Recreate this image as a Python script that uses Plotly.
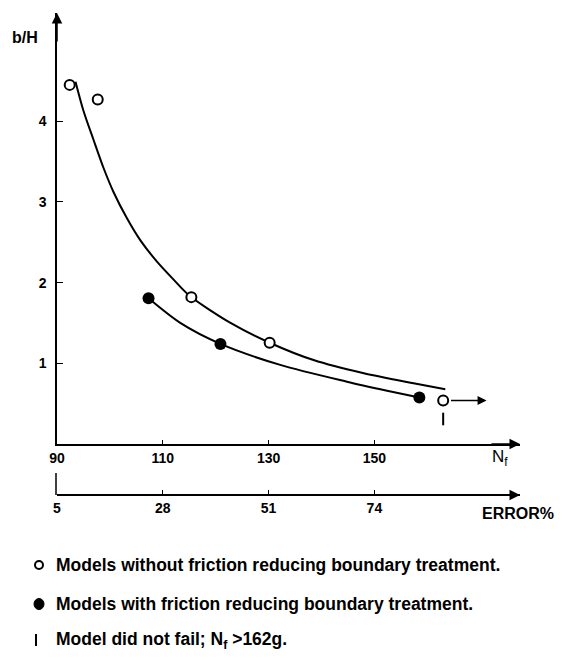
import plotly.graph_objects as go

# ---- data ----
open_x = [92.4, 97.7, 115.4, 130.2, 163.0]
open_y = [4.45, 4.27, 1.82, 1.255, 0.54]
filled_x = [107.3, 120.9, 158.5]
filled_y = [1.805, 1.24, 0.575]
upper_curve_x = [93.5, 95.0, 96.9, 98.8, 100.7, 103.2, 105.8, 108.9, 112.0, 115.0,
                 122.8, 130.2, 138.5, 148.0, 157.4, 163.4]
upper_curve_y = [4.49, 4.13, 3.77, 3.42, 3.12, 2.80, 2.52, 2.26, 2.04, 1.84,
                 1.50, 1.255, 1.04, 0.876, 0.752, 0.678]
lower_curve_x = [107.3, 113.3, 120.9, 132.2, 144.8, 152.4, 158.5]
lower_curve_y = [1.805, 1.50, 1.24, 0.98, 0.772, 0.66, 0.575]
nf_ticks = [90, 110, 130, 150]
err_ticks = [5, 28, 51, 74]
y_ticks = [1, 2, 3, 4]
not_failed_x = [163.0]
not_failed_arrow_to = 171.2
legend_texts = [
    "Models without friction reducing boundary treatment.",
    "Models with friction reducing boundary treatment.",
    "Model did not fail; N<sub>f</sub> >162g.",
]

W, H = 562, 660
L, R, T, B = 57, 42, 13, 165
PW, PH = W - L - R, H - T - B


def px(x):
    return (x - L) / PW


def py(y):
    return (H - B - y) / PH


x_range = [90, 90 + PW / 5.29]
err_range = [5, 5 + (x_range[1] - 90) * 1.15]
y_dom0 = py(444)
y_range = [0, (444 - 13) / 80.7]

FONT = "Liberation Sans"
fig = go.Figure()

curve_line = dict(color="black", width=2, shape="spline", smoothing=0.8)
fig.add_trace(go.Scatter(x=upper_curve_x, y=upper_curve_y, mode="lines",
                         line=curve_line, hoverinfo="skip", showlegend=False))
fig.add_trace(go.Scatter(x=lower_curve_x, y=lower_curve_y, mode="lines",
                         line=curve_line, hoverinfo="skip", showlegend=False))
fig.add_trace(go.Scatter(x=open_x, y=open_y, mode="markers",
                         marker=dict(symbol="circle", size=10, color="white",
                                     line=dict(color="black", width=2)),
                         showlegend=False))
fig.add_trace(go.Scatter(x=filled_x, y=filled_y, mode="markers",
                         marker=dict(symbol="circle", size=12, color="black"),
                         showlegend=False))
fig.add_trace(go.Scatter(x=not_failed_x, y=[0.31], mode="markers",
                         marker=dict(symbol="line-ns-open", size=9, color="black",
                                     line=dict(color="black", width=2)),
                         showlegend=False))
fig.add_trace(go.Scatter(x=err_range, y=[None, None], xaxis="x2", yaxis="y",
                         mode="lines", showlegend=False, hoverinfo="skip"))

tickfont = dict(family=FONT, size=14, color="black", weight="bold")
fig.update_layout(
    width=W, height=H, margin=dict(l=L, r=R, t=T, b=B, autoexpand=False),
    paper_bgcolor="white", plot_bgcolor="white",
    xaxis=dict(range=x_range, tickvals=nf_ticks, ticks="inside", ticklen=4,
               tickcolor="black", showline=True, linecolor="black", linewidth=1.5,
               showgrid=False, zeroline=False, anchor="y", tickfont=tickfont,
               automargin=False),
    xaxis2=dict(range=err_range, tickvals=err_ticks, ticks="inside", ticklen=4,
                tickcolor="black", showline=True, linecolor="black", linewidth=1.5,
                showgrid=False, zeroline=False, overlaying="x", anchor="free",
                position=0, side="bottom", tickfont=tickfont, automargin=False),
    yaxis=dict(domain=[y_dom0, 1], range=y_range, tickvals=y_ticks, ticks="inside",
               ticklen=6, tickcolor="black", showline=True, linecolor="black",
               linewidth=1.5, showgrid=False, zeroline=False, tickfont=tickfont,
               ticklabelstandoff=6, automargin=False),
    showlegend=False,
)

# axis arrows
arrow = dict(showarrow=True, arrowhead=2, arrowsize=1.4, arrowwidth=1.5,
             arrowcolor="black", text="")
fig.add_annotation(x=0, y=1, xref="x domain", yref="y domain", ax=0, ay=30, **arrow)
fig.add_annotation(x=1, y=0, xref="x domain", yref="y domain", ax=-30, ay=0, **arrow)
fig.add_annotation(x=1, y=0, xref="paper", yref="paper", ax=-30, ay=0, **arrow)
# "did not fail" arrow
fig.add_annotation(x=not_failed_arrow_to, y=open_y[-1], xref="x", yref="y",
                   ax=not_failed_x[0] + 1.2, ay=open_y[-1], axref="x", ayref="y",
                   showarrow=True, arrowhead=2, arrowsize=1.2, arrowwidth=1.5,
                   arrowcolor="black", text="")

# left stub of the ERROR% axis
fig.add_shape(type="line", xref="paper", yref="paper", x0=px(56), x1=px(56),
              y0=py(495), y1=py(473), line=dict(color="black", width=1.5))

# axis labels
lab = dict(xref="paper", yref="paper", showarrow=False, xanchor="center",
           yanchor="middle")
fig.add_annotation(x=px(25), y=py(37), text="b/H",
                   font=dict(family=FONT, size=16, color="black", weight="bold"), **lab)
fig.add_annotation(x=px(500), y=py(458), text="N<sub>f</sub>",
                   font=dict(family=FONT, size=17, color="black"), **lab)
fig.add_annotation(x=px(518), y=py(513), text="ERROR%",
                   font=dict(family=FONT, size=16, color="black", weight="bold"), **lab)

# key
legend_y = [565, 604, 640]
for t, yy in zip(legend_texts, legend_y):
    fig.add_annotation(x=px(54), y=py(yy), xref="paper", yref="paper", text=t,
                       showarrow=False, xanchor="left", yanchor="middle",
                       font=dict(family=FONT, size=17.5, color="black", weight="bold"))
fig.add_shape(type="circle", xref="paper", yref="paper", xsizemode="pixel",
              ysizemode="pixel", xanchor=px(39), yanchor=py(565),
              x0=-4, x1=4, y0=-4, y1=4, line=dict(color="black", width=2),
              fillcolor="white")
fig.add_shape(type="circle", xref="paper", yref="paper", xsizemode="pixel",
              ysizemode="pixel", xanchor=px(39), yanchor=py(604),
              x0=-5, x1=5, y0=-5.5, y1=5.5, line=dict(color="black", width=1),
              fillcolor="black")
fig.add_shape(type="line", xref="paper", yref="paper", x0=px(36), x1=px(36),
              y0=py(646), y1=py(634), line=dict(color="black", width=2))

fig.write_html("out.html", config={"displayModeBar": False},
               post_script="document.body.style.margin='0';")
